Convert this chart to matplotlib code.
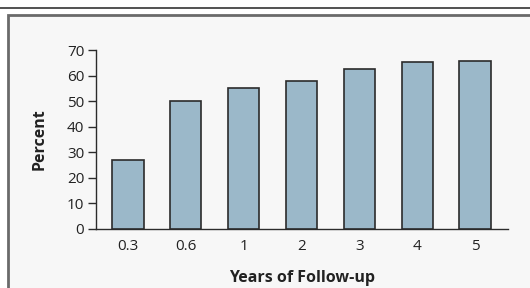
import matplotlib
matplotlib.use('Agg')
import matplotlib.pyplot as plt
from matplotlib.patches import Rectangle
from matplotlib.lines import Line2D

# datos
years = ['0.3', '0.6', '1', '2', '3', '4', '5']
percent = [27.0, 50.0, 55.3, 57.9, 62.5, 65.4, 65.7]

plt.rcParams['font.family'] = ['Open Sans', 'DejaVu Sans']

fig = plt.figure(figsize=(5.3, 2.88), dpi=100, facecolor='white')

# marco de fondo
fig.add_artist(Line2D([0, 1], [1 - 7.5/288, 1 - 7.5/288], color='#333333', lw=1.2, zorder=-2))
fig.add_artist(Rectangle((8/530, -0.05), 1.2, 1 - 15/288 + 0.05, facecolor='#f7f7f7',
                         edgecolor='#6a6a6a', lw=2, transform=fig.transFigure, zorder=-2))

ax = fig.add_axes([96/530, 1 - 229/288, (508 - 96)/530, (229 - 50)/288])
ax.set_facecolor('none')

x = range(len(years))
ax.bar(x, percent, width=0.54, color='#9bb8c9', edgecolor='#2b2b2b', linewidth=1.2, zorder=3)

ax.set_xlim(-0.553, 6.57)
ax.set_ylim(0, 70)
ax.set_yticks(range(0, 71, 10))
ax.set_xticks(list(x))
ax.set_xticklabels(years)

for s in ['top', 'right']:
    ax.spines[s].set_visible(False)
for s in ['left', 'bottom']:
    ax.spines[s].set_color('#2b2b2b')
    ax.spines[s].set_linewidth(1.0)

ax.tick_params(axis='y', direction='out', length=6, width=1, color='#2b2b2b',
               labelsize=11, pad=2.5, labelcolor='#222222')
ax.tick_params(axis='x', length=0, labelsize=11, pad=7, labelcolor='#222222')

ax.set_ylabel('Percent', fontsize=11.5, fontweight='bold', labelpad=14, color='#222222')
ax.set_xlabel('Years of Follow-up', fontsize=11.5, fontweight='bold', labelpad=12, color='#222222')

fig.savefig('out.png', dpi=100, facecolor='white')
